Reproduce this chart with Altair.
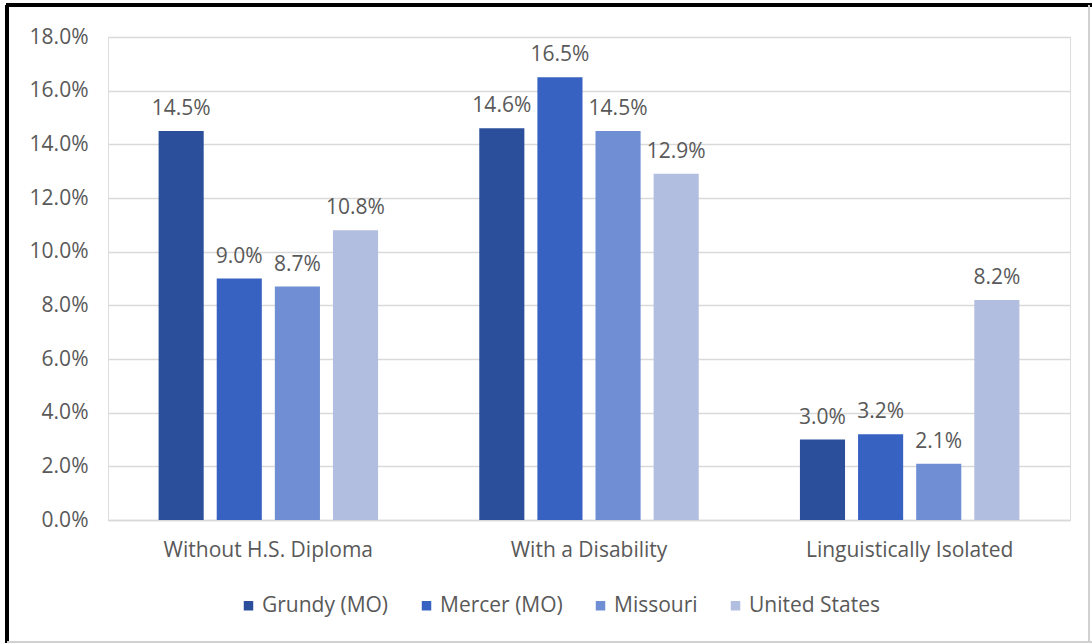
import altair as alt
import pandas as pd

categories = ["Without H.S. Diploma", "With a Disability", "Linguistically Isolated"]
series = ["Grundy (MO)", "Mercer (MO)", "Missouri", "United States"]
grundy = [0.145, 0.146, 0.030]
mercer = [0.090, 0.165, 0.032]
missouri = [0.087, 0.145, 0.021]
united_states = [0.108, 0.129, 0.082]
colors = ["#2c4f9c", "#3862c2", "#6f8ed3", "#b2bedf"]

rows = []
for s, vals in zip(series, [grundy, mercer, missouri, united_states]):
    for c, v in zip(categories, vals):
        rows.append({"Category": c, "Series": s, "Value": v})
df = pd.DataFrame(rows)

W, H = 962, 483
FONT = "Open Sans"
TXT = "#595959"
FS = 21

x = alt.X("Category:N", sort=categories, title=None,
          scale=alt.Scale(paddingInner=0.275, paddingOuter=0.1375),
          axis=alt.Axis(labelAngle=0, labelFontSize=FS, labelColor=TXT,
                        labelFont=FONT, labelPadding=19, ticks=False, labelLimit=0,
                        domainColor="#d9d9d9", domainWidth=1.5))
xo = alt.XOffset("Series:N", sort=series,
                 scale=alt.Scale(paddingInner=0.224, paddingOuter=0.112))
y = alt.Y("Value:Q", title=None,
          scale=alt.Scale(domain=[0, 0.18], nice=False),
          axis=alt.Axis(format=".1%", values=[i / 100 for i in range(0, 19, 2)],
                        labelFontSize=FS, labelColor=TXT, labelFont=FONT,
                        labelPadding=20, ticks=False, domain=False,
                        gridColor="#d9d9d9", gridWidth=1.5))
color = alt.Color("Series:N", sort=series,
                  scale=alt.Scale(domain=series, range=colors),
                  legend=alt.Legend(title=None, orient="none", direction="horizontal",
                                    legendX=130, legendY=558, symbolType="square",
                                    symbolSize=90, symbolStrokeWidth=0,
                                    labelFontSize=FS, labelColor=TXT, labelLimit=0,
                                    labelFont=FONT, columnPadding=27,
                                    labelOffset=3))

base = alt.Chart(df)
bars = base.mark_bar().encode(x=x, xOffset=xo, y=y, color=color)
labels = base.mark_text(baseline="alphabetic", dy=-16, fontSize=FS, color=TXT,
                        font=FONT).encode(
    x=alt.X("Category:N", sort=categories), xOffset=alt.XOffset("Series:N", sort=series),
    y="Value:Q", text=alt.Text("Value:Q", format=".1%"))

left_border = alt.Chart(df).mark_rule(color="#000000", strokeWidth=3).encode(
    x=alt.value(-101), y=alt.value(-32), y2=alt.value(643 - 37))
top_border = alt.Chart(df).mark_rule(color="#000000", strokeWidth=3).encode(
    x=alt.value(-102), x2=alt.value(W + 22), y=alt.value(-32))
right_border = alt.Chart(df).mark_rule(color="#d0d0d0", strokeWidth=1.5).encode(
    x=alt.value(W + 19), y=alt.value(-32), y2=alt.value(643 - 37))
bottom_border = alt.Chart(df).mark_rule(color="#d0d0d0", strokeWidth=1.5).encode(
    x=alt.value(-101), x2=alt.value(W + 22), y=alt.value(H + 122))

chart = alt.layer(bars, labels, left_border, top_border, right_border, bottom_border).properties(
    width=W, height=H,
    autosize=alt.AutoSizeParams(type="none"),
    padding={"left": 108, "top": 37, "right": 22, "bottom": 123},
).configure_view(stroke=None).configure(background="white")

chart.save("out.html", embed_options={"renderer": "svg", "actions": False})
